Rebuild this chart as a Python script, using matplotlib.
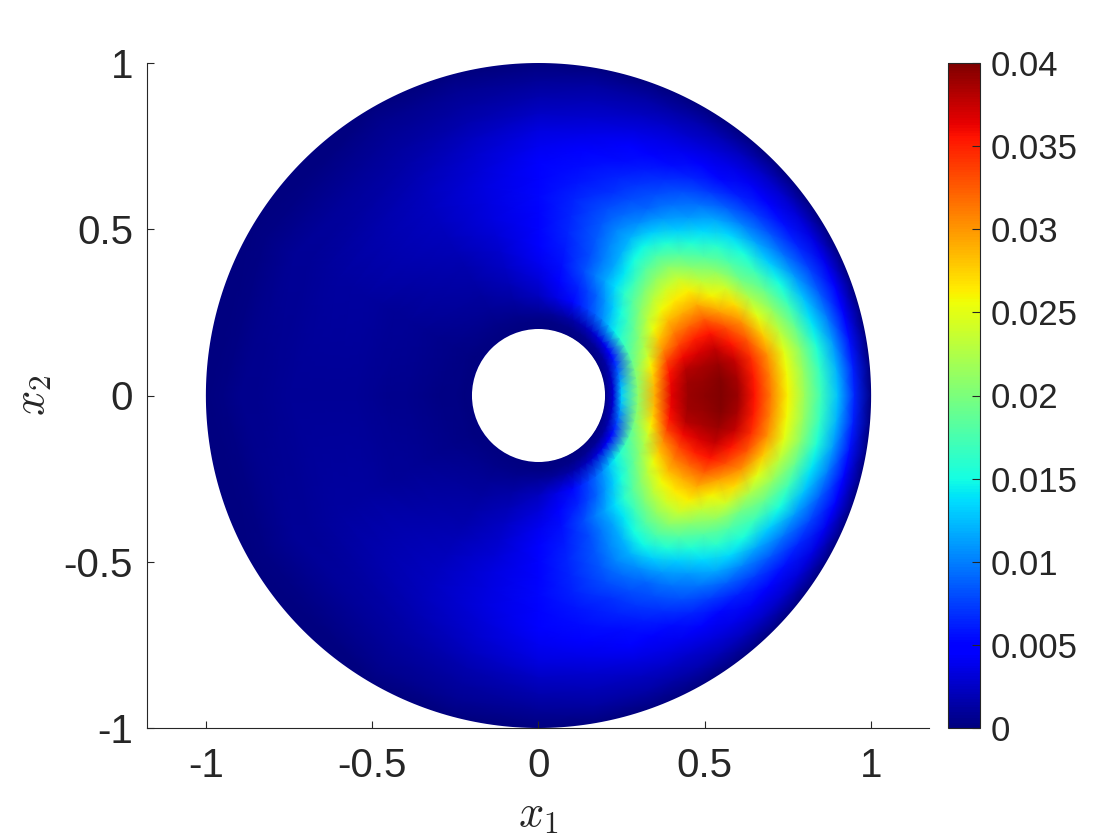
import numpy as np
import matplotlib
matplotlib.use("Agg")
import matplotlib.pyplot as plt
from matplotlib.patches import Circle, PathPatch
from matplotlib.path import Path

plt.rcParams['font.family'] = ['Liberation Sans', 'DejaVu Sans']
plt.rcParams['mathtext.fontset'] = 'cm'

# values, upper half only (field is mirrored about x2 = 0)
radii = [0.2, 0.225, 0.25, 0.3, 0.35, 0.4, 0.45, 0.5, 0.55, 0.6,
         0.65, 0.7, 0.75, 0.8, 0.85, 0.9, 0.95, 1.0, 1.08]
angles = [0, 5, 10, 15, 20, 25, 30, 35, 40, 45, 50, 55, 60, 65, 70, 80, 90, 105, 120, 150, 180]

# one row per radius, one column per angle, in units of 1e-3
u_r020 = [0] * 21
u_r022 = [3, 2.9, 2.6, 2.2, 1.8, 1.5, 1.2, 1, 0.9, 0.8, 0.7, 0.6, 0.5, 0.45, 0.4, 0.3, 0.3, 0.2, 0.2, 0.1, 0.1]
u_r025 = [13, 12.5, 11, 9.5, 7.5, 6, 4.5, 4, 3.5, 3, 2.5, 2.1, 1.8, 1.5, 1.3, 1, 0.8, 0.5, 0.4, 0.3, 0.2]
u_r030 = [21, 20.9, 20.5, 20, 19, 18, 17, 15.8, 14.5, 12.6, 10.5, 9, 7.5, 6.3, 5.2, 3.5, 2.3, 1.3, 0.8, 0.4, 0.3]
u_r035 = [29, 28.5, 27.5, 26, 24, 22.2, 20.5, 18.8, 17, 15, 13, 11, 9, 7.7, 6.5, 4.5, 3.2, 2, 1.2, 0.6, 0.4]
u_r040 = [36.5, 36.2, 35.5, 33.5, 30.5, 28, 25.5, 23, 20.5, 18.2, 16, 13.7, 11.5, 9.7, 8, 5.5, 4, 2.4, 1.5, 0.7, 0.5]
u_r045 = [39, 38.8, 38, 36, 33.5, 31, 28.5, 25.7, 23, 20, 17, 14.2, 11.5, 9.7, 8, 6, 4.5, 2.8, 1.7, 0.8, 0.6]
u_r050 = [39.5, 39.2, 38.5, 37, 35, 32, 29, 26.5, 24, 21, 18, 15, 12, 10.2, 8.5, 6.5, 5, 3.1, 2, 0.9, 0.7]
u_r055 = [40, 39.7, 39, 37.5, 35.5, 32.3, 29, 26.2, 23.5, 20.5, 17.5, 14.7, 12, 10.2, 8.5, 6.5, 5.1, 3.3, 2.1, 1, 0.8]
u_r060 = [39, 38.5, 37.5, 35.5, 33, 29.5, 26, 23.2, 20.5, 18, 15.5, 13, 10.5, 9.2, 8, 6.3, 5.2, 3.4, 2.2, 1.1, 0.9]
u_r065 = [35.5, 35.2, 34.5, 32.5, 30, 27, 24, 21, 18, 15.5, 13, 11, 9, 8, 7, 5.8, 5, 3.3, 2.2, 1.1, 0.9]
u_r070 = [31, 30.7, 30, 27.7, 25, 22.2, 19.5, 17.7, 16, 13.5, 11, 9.5, 8, 7.1, 6.3, 5.4, 4.7, 3.1, 2.1, 1.1, 0.9]
u_r075 = [26, 25.7, 25, 23, 21, 19, 17, 15.2, 13.5, 11.5, 9.5, 8.1, 6.8, 6, 5.4, 4.6, 4, 2.7, 1.8, 1, 0.8]
u_r080 = [21.5, 21.2, 20.5, 18.8, 17, 15, 13, 11.5, 10, 8.6, 7.2, 6.3, 5.4, 4.9, 4.4, 3.7, 3.3, 2.2, 1.5, 0.9, 0.7]
u_r085 = [17, 16.5, 15.5, 14, 12.5, 11, 9.5, 8.3, 7.2, 6.2, 5.3, 4.6, 4, 3.6, 3.3, 2.8, 2.4, 1.7, 1.2, 0.8, 0.6]
u_r090 = [12.5, 12, 11, 9.8, 8.5, 7.5, 6.5, 5.6, 4.8, 4.2, 3.7, 3.2, 2.8, 2.5, 2.3, 1.9, 1.6, 1.2, 0.9, 0.6, 0.5]
u_r095 = [6.5, 6.2, 5.5, 5, 4.5, 4, 3.5, 3.1, 2.7, 2.4, 2.1, 1.8, 1.6, 1.4, 1.3, 1.1, 0.9, 0.7, 0.5, 0.3, 0.3]
u_r100 = [0] * 21
u_r108 = [0] * 21

xticks = [-1, -0.5, 0, 0.5, 1]
yticks = [-1, -0.5, 0, 0.5, 1]
cticks = [0, 0.005, 0.01, 0.015, 0.02, 0.025, 0.03, 0.035, 0.04]
text_color = '#262626'


def ring_path(r_in, r_out):
    # outer circle plus reversed inner circle, the middle stays empty
    t = np.linspace(0, 2 * np.pi, 361)
    outer = np.column_stack([r_out * np.cos(t), r_out * np.sin(t)])
    inner = np.column_stack([r_in * np.cos(t[::-1]), r_in * np.sin(t[::-1])])
    return Path.make_compound_path(Path(outer, closed=True), Path(inner, closed=True))


def main():
    u_half = np.array([u_r020, u_r022, u_r025, u_r030, u_r035, u_r040, u_r045,
                       u_r050, u_r055, u_r060, u_r065, u_r070, u_r075, u_r080,
                       u_r085, u_r090, u_r095, u_r100, u_r108]) * 1e-3
    th_half = np.array(angles, dtype=float)

    # mirror the upper half
    th = np.concatenate([-th_half[:0:-1], th_half])
    u = np.hstack([u_half[:, :0:-1], u_half])
    rr, tt = np.meshgrid(radii, np.deg2rad(th), indexing='ij')
    x = rr * np.cos(tt)
    y = rr * np.sin(tt)

    fig = plt.figure(figsize=(11.2, 8.4), dpi=100)
    ax = fig.add_axes([147 / 1120, 1 - 728 / 840, 782 / 1120, 665 / 840])
    mesh = ax.pcolormesh(x, y, u, cmap='jet', vmin=0, vmax=0.04, shading='gouraud')

    # white masks give a smooth antialiased edge, gouraud clipping looks jagged
    ax.add_patch(PathPatch(ring_path(1.0, 1.2), facecolor='white', edgecolor='none', zorder=1.5))
    ax.add_patch(Circle((0, 0), 0.2, facecolor='white', edgecolor='none', zorder=1.5))

    ax.set_xlim(-1.177, 1.174)
    ax.set_ylim(-1, 1)
    ax.set_xticks(xticks)
    ax.set_xticklabels(['-1', '-0.5', '0', '0.5', '1'])
    ax.set_yticks(yticks)
    ax.set_yticklabels(['-1', '-0.5', '0', '0.5', '1'])
    ax.tick_params(direction='in', length=5, width=0.8, color=text_color,
                   labelsize=29, labelcolor=text_color)
    ax.tick_params(axis='x', pad=14)
    ax.tick_params(axis='y', pad=10)
    ax.spines['top'].set_visible(False)
    ax.spines['right'].set_visible(False)
    for side in ['left', 'bottom']:
        ax.spines[side].set_color(text_color)
        ax.spines[side].set_linewidth(0.8)
    ax.set_xlabel(r'$x_1$', fontsize=32, color=text_color, labelpad=7)
    ax.set_ylabel(r'$x_2$', fontsize=32, color=text_color, labelpad=7)

    cax = fig.add_axes([948 / 1120, 1 - 728 / 840, 32 / 1120, 665 / 840])
    cbar = fig.colorbar(mesh, cax=cax)
    cbar.set_ticks(cticks)
    cbar.set_ticklabels(['0', '0.005', '0.01', '0.015', '0.02', '0.025', '0.03', '0.035', '0.04'])
    cbar.ax.tick_params(direction='in', length=6, width=0.8, color=text_color,
                        labelsize=25, labelcolor=text_color, pad=8)
    cbar.outline.set_edgecolor(text_color)
    cbar.outline.set_linewidth(0.8)

    fig.savefig('out.png', dpi=100)
    plt.close(fig)


if __name__ == "__main__":
    main()
